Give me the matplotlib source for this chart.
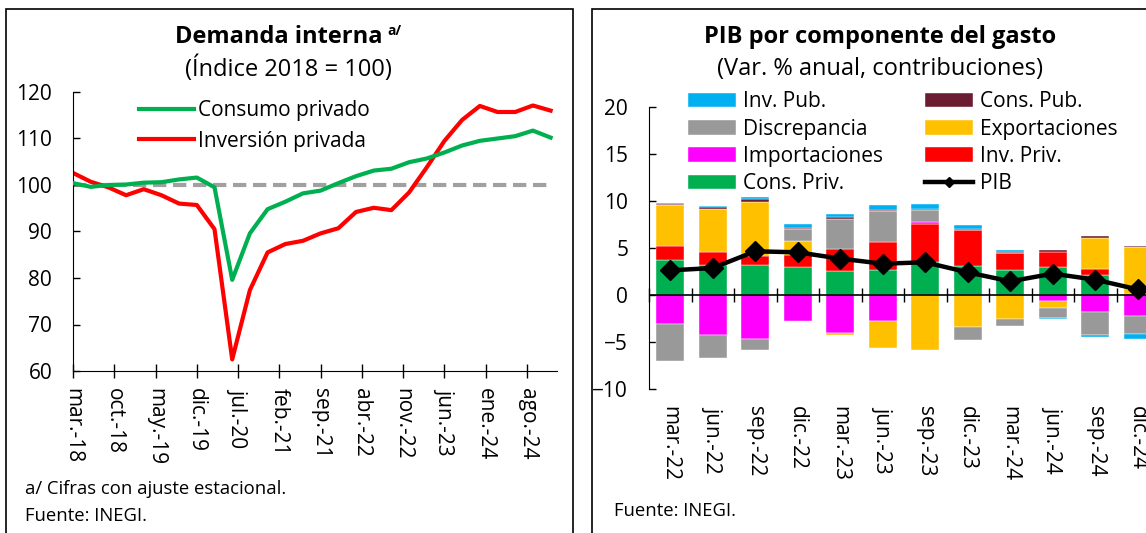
import numpy as np
import matplotlib
matplotlib.use('Agg')
import matplotlib.pyplot as plt
from matplotlib.patches import Rectangle

plt.rcParams['font.family'] = ['Open Sans', 'Noto Sans', 'DejaVu Sans']
plt.rcParams['font.size'] = 15

# --- Demanda interna (quarterly index, 2018 = 100) ---
quarters_left = ['mar-18', 'jun-18', 'sep-18', 'dic-18', 'mar-19', 'jun-19', 'sep-19', 'dic-19',
                 'mar-20', 'jun-20', 'sep-20', 'dic-20', 'mar-21', 'jun-21', 'sep-21', 'dic-21',
                 'mar-22', 'jun-22', 'sep-22', 'dic-22', 'mar-23', 'jun-23', 'sep-23', 'dic-23',
                 'mar-24', 'jun-24', 'sep-24', 'dic-24']
consumo = [100.4, 99.6, 100.0, 100.1, 100.5, 100.6, 101.2, 101.6,
           99.5, 79.6, 89.6, 94.8, 96.4, 98.2, 98.8, 100.4,
           101.9, 103.1, 103.5, 104.9, 105.7, 107.0, 108.5, 109.5,
           110.0, 110.5, 111.7, 110.2]
inversion = [102.6, 100.7, 99.5, 97.8, 99.1, 97.8, 96.0, 95.7,
             90.5, 62.5, 77.4, 85.5, 87.3, 88.0, 89.6, 90.7,
             94.2, 95.1, 94.6, 98.4, 103.8, 109.5, 114.0, 117.0,
             115.7, 115.7, 117.1, 116.0]
left_ticklabels = ['mar.-18', 'oct.-18', 'may.-19', 'dic.-19', 'jul.-20', 'feb.-21',
                   'sep.-21', 'abr.-22', 'nov.-22', 'jun.-23', 'ene.-24', 'ago.-24']

# --- PIB por componente del gasto (contribuciones, pp) ---
quarters_right = ['mar.-22', 'jun.-22', 'sep.-22', 'dic.-22', 'mar.-23', 'jun.-23',
                  'sep.-23', 'dic.-23', 'mar.-24', 'jun.-24', 'sep.-24', 'dic.-24']
cons_priv = [3.76, 3.19, 3.23, 2.98, 2.52, 2.62, 3.48, 3.05, 2.62, 2.98, 2.13, 0.05]
inv_priv = [1.49, 1.42, 0.96, 1.31, 2.38, 3.05, 4.04, 3.83, 1.84, 1.56, 0.64, 0.05]
importaciones = [-3.05, -4.22, -4.68, -2.73, -4.04, -2.73, 0.21, 0.0, 0.0, -0.67, -1.77, -2.20]
exportaciones = [4.33, 4.57, 5.67, 1.42, -0.25, -2.91, -5.82, -3.40, -2.59, -0.71, 3.30, 5.00]
discrepancia = [-4.00, -2.48, -1.13, 1.31, 3.23, 3.26, 1.28, -1.42, -0.67, -1.06, -2.52, -2.00]
cons_pub = [0.14, 0.18, 0.35, 0.14, 0.20, 0.14, 0.14, 0.14, 0.14, 0.21, 0.18, 0.10]
inv_pub = [0.05, 0.14, 0.20, 0.43, 0.32, 0.46, 0.50, 0.43, 0.21, -0.10, -0.21, -0.43]
pib = [2.62, 2.87, 4.65, 4.54, 3.87, 3.33, 3.48, 2.41, 1.45, 2.27, 1.63, 0.60]

fig = plt.figure(figsize=(11.46, 5.33), dpi=100)

# panel frames
fig.add_artist(Rectangle((5.5 / 1146, -0.05), 567 / 1146, 1.05 - 9 / 533, transform=fig.transFigure,
                         fill=False, edgecolor='black', lw=1.2))
fig.add_artist(Rectangle((592 / 1146, -0.05), 0.6, 1.05 - 9 / 533, transform=fig.transFigure,
                         fill=False, edgecolor='black', lw=1.2))

# ---------------- left panel ----------------
ax1 = fig.add_axes([73 / 1146, 162 / 533, 483.5 / 1146, 279 / 533])
months = np.arange(len(quarters_left)) * 3
ax1.plot([months[0], months[-1]], [100, 100], color='#A0A0A0', lw=3, dashes=(3.2, 1.6), zorder=1)
ax1.plot(months, consumo, color='#00B050', lw=3, label='Consumo privado', zorder=3)
ax1.plot(months, inversion, color='#FF0000', lw=3, label='Inversión privada', zorder=2)
ax1.set_xlim(0, 82)
ax1.set_ylim(60, 120)
ax1.set_yticks(range(60, 121, 10))
ax1.set_xticks(np.arange(len(left_ticklabels)) * 7)
ax1.set_xticklabels(left_ticklabels, rotation=270, va='top', ha='center')
ax1.tick_params(axis='y', direction='in', length=5, width=1, pad=15)
ax1.tick_params(axis='x', direction='inout', length=10, width=1, pad=7)
for s in ['top', 'right']:
    ax1.spines[s].set_visible(False)
ax1.legend(loc='upper left', bbox_to_anchor=(0.12, 1.0), frameon=False, handlelength=2.6,
           handletextpad=0.2, labelspacing=0.45, borderaxespad=0)

t1 = fig.text(279 / 1146, 1 - 37 / 533, 'Demanda interna', ha='center', va='center',
              fontsize=17, fontweight='bold')
fig.canvas.draw()
bb = t1.get_window_extent()
fig.text(bb.x1 / 1146 + 5 / 1146, 1 - 31 / 533, 'a/', ha='left', va='center', fontsize=10,
         fontweight='bold')
fig.text(288 / 1146, 1 - 69 / 533, '(Índice 2018 = 100)', ha='center', va='center', fontsize=17)
fig.text(25 / 1146, 1 - 489 / 533, 'a/ Cifras con ajuste estacional.', ha='left', va='center',
         fontsize=13.3)
fig.text(25 / 1146, 1 - 516 / 533, 'Fuente: INEGI.', ha='left', va='center', fontsize=13.3)

# ---------------- right panel ----------------
ax2 = fig.add_axes([649 / 1146, 144 / 533, 510 / 1146, 282 / 533])
x = np.arange(len(quarters_right))
series = [
    ('Cons. Priv.', cons_priv, '#00B050'),
    ('Inv. Priv.', inv_priv, '#FF0000'),
    ('Importaciones', importaciones, '#FF00FF'),
    ('Exportaciones', exportaciones, '#FFC000'),
    ('Discrepancia', discrepancia, '#999999'),
    ('Cons. Pub.', cons_pub, '#6B1D31'),
    ('Inv. Pub.', inv_pub, '#00B0F0'),
]
pos_base = np.zeros(len(x))
neg_base = np.zeros(len(x))
handles = {}
for name, vals, col in series:
    v = np.array(vals)
    bottom = np.where(v >= 0, pos_base, neg_base)
    b = ax2.bar(x, v, width=0.667, bottom=bottom, color=col, edgecolor='white', linewidth=0.3,
                label=name, zorder=2)
    handles[name] = b
    pos_base = pos_base + np.where(v >= 0, v, 0)
    neg_base = neg_base + np.where(v < 0, v, 0)
ax2.axhline(0, color='black', lw=1.2, zorder=3)
ln, = ax2.plot(x, pib, color='black', lw=3.2, marker='D', markersize=10, label='PIB', zorder=4)
handles['PIB'] = ln

ax2.set_xlim(-0.5, len(x) - 0.5)
ax2.set_ylim(-10, 20)
ax2.set_yticks(range(-10, 21, 5))
ax2.set_xticks(x)
ax2.set_xticklabels(quarters_right, rotation=270, va='top', ha='center')
ax2.tick_params(axis='x', length=0, pad=12)
ax2.tick_params(axis='y', direction='in', length=5, width=1, pad=15)
for s in ['top', 'right', 'bottom']:
    ax2.spines[s].set_visible(False)
sec = ax2.secondary_xaxis(1 / 3)
sec.set_xticks(np.arange(len(x) + 1) - 0.5)
sec.set_xticklabels([])
sec.tick_params(direction='inout', length=10, width=1)
sec.spines['bottom'].set_visible(False)
sec.spines['top'].set_visible(False)

order = ['Inv. Pub.', 'Discrepancia', 'Importaciones', 'Cons. Priv.',
         'Cons. Pub.', 'Exportaciones', 'Inv. Priv.', 'PIB']
ax2.legend([handles[k] for k in order], order, ncol=2, loc='upper left',
           bbox_to_anchor=(0.06, 1.085), frameon=False, handlelength=2.3, handleheight=0.7,
           handletextpad=0.35, labelspacing=0.3, columnspacing=2.0, borderaxespad=0,
           markerscale=0.55)

fig.text(880 / 1146, 1 - 37 / 533, 'PIB por componente del gasto', ha='center', va='center',
         fontsize=17, fontweight='bold')
fig.text(880 / 1146, 1 - 69 / 533, '(Var. % anual, contribuciones)', ha='center', va='center',
         fontsize=17)
fig.text(614 / 1146, 1 - 511 / 533, 'Fuente: INEGI.', ha='left', va='center', fontsize=13.3)

fig.savefig('out.png', dpi=100)
